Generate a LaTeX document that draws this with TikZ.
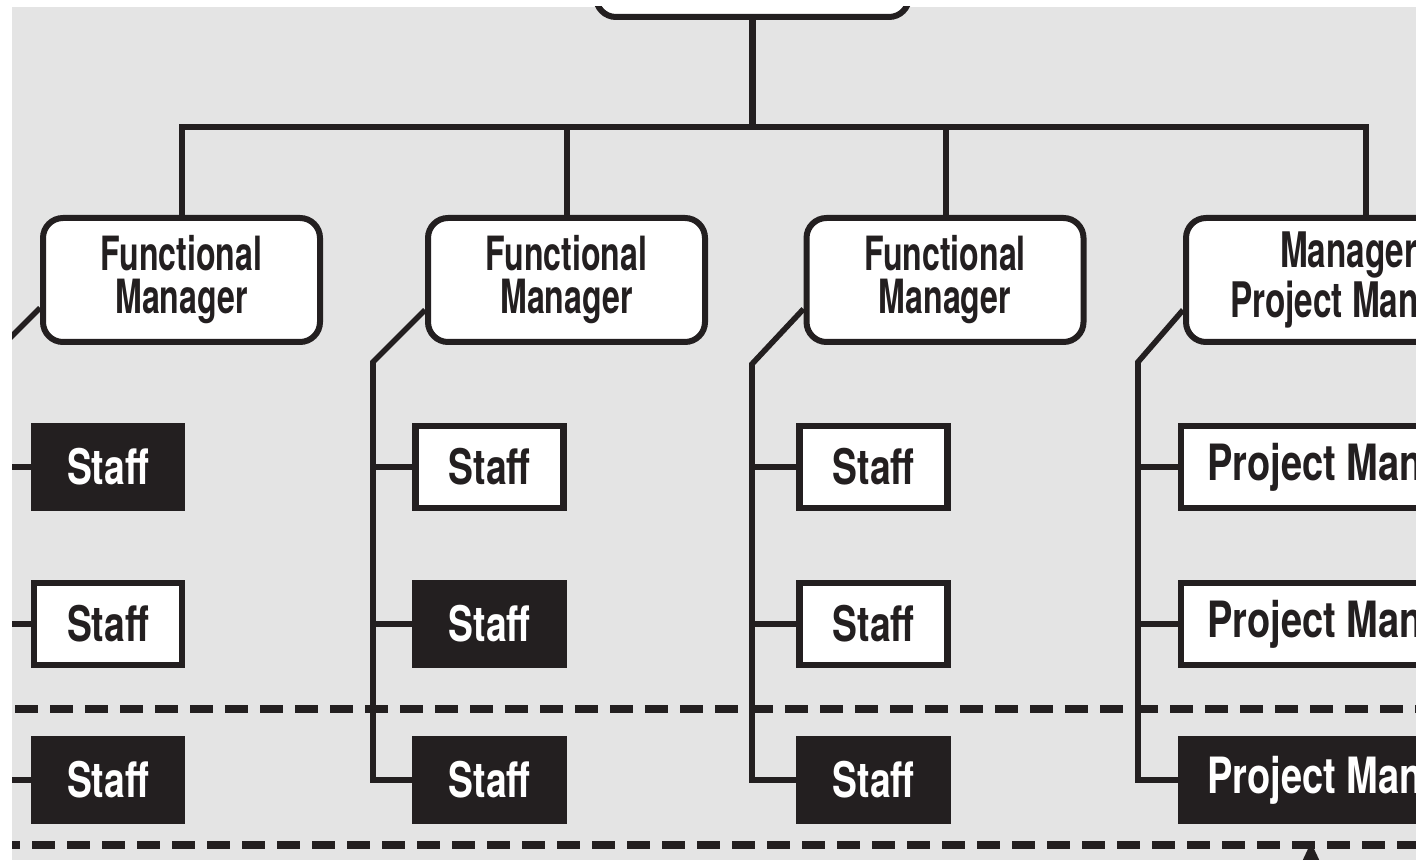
\documentclass[tikz,border=0pt]{standalone}
\usepackage{fontspec}
\usetikzlibrary{arrows.meta,calc}
% condensed grotesque faces for the box labels
\newfontfamily\fmfnt{TeX Gyre Heros}[FakeStretch=0.68]
\newfontfamily\stfnt{TeX Gyre Heros}[FakeStretch=0.76]
\definecolor{ink}{HTML}{231F20}
\definecolor{paper}{HTML}{E4E4E4}
\begin{document}
\begin{tikzpicture}[x=0.5pt,y=-0.5pt,
  fmbox/.style={draw=ink, line width=3pt, fill=white, text=ink,
    rounded corners=10pt, minimum width=138.5pt, minimum height=62pt,
    inner sep=0pt, align=center,
    font=\fmfnt\bfseries\fontsize{23.6}{21.5}\selectfont},
  staffw/.style={draw=ink, line width=3.2pt, fill=white, text=ink,
    minimum width=74pt, minimum height=41pt, inner sep=0pt,
    font=\stfnt\bfseries\fontsize{24.5}{24.5}\selectfont},
  staffb/.style={staffw, fill=ink, text=white},
  pmw/.style={staffw, anchor=west, inner xsep=13pt,
    font=\stfnt\bfseries\fontsize{25}{25}\selectfont},
  pmb/.style={pmw, fill=ink, text=white},
  link/.style={draw=ink, line width=2.8pt},
  bus/.style={draw=ink, line width=3.3pt},
  sep/.style={draw=ink, line width=3.8pt, dash pattern=on 11.5pt off 6pt}
]
% page with grey panel
\useasboundingbox (0,0) rectangle (1416,860);
\fill[white] (0,0) rectangle (1416,860);
\fill[paper] (12,7) rectangle (1416,860);
\clip (12,7) rectangle (1416,860);

% level separators
\coordinate (s1a) at (15,709);   \coordinate (s1b) at (1430,709);
\coordinate (s2a) at (-3,845);   \coordinate (s2b) at (1430,845);
\draw[sep] (s1a) -- (s1b);
\draw[sep] (s2a) -- (s2b);

% top executive box
\node[fmbox, minimum width=156.5pt] (top) at (752.5,-45) {};

% managers
\node[fmbox] (fm1) at (181.5,280) {Functional\\Manager};
\node[fmbox] (fm2) at (566.5,280) {Functional\\Manager};
\node[fmbox] (fm3) at (945,280) {Functional\\Manager};
\node[fmbox, anchor=west, minimum width=0pt, inner xsep=22pt,
  font=\fmfnt\bfseries\fontsize{24.5}{21.5}\selectfont] (fm4) at (1183,280) {Manager of\\Project Managers};

% bus from the top box
\coordinate (busL) at (182,127);
\coordinate (j2) at (567,127);
\coordinate (j3) at (946,127);
\coordinate (j4) at (1366,127);
\draw[bus] (top.south) -- (top.south |- busL);
\draw[bus] (fm1.north -| busL) -- (busL) -- (j4) -- (j4 |- fm4.north);
\draw[bus] (j2) -- (j2 |- fm2.north);
\draw[bus] (j3) -- (j3 |- fm3.north);

% staff, column 1
\node[staffb] (s11) at (108,467) {Staff};
\node[staffw] (s12) at (108,624) {Staff};
\node[staffb] (s13) at (108,780) {Staff};
% staff, column 2
\node[staffw] (s21) at (489.5,467) {Staff};
\node[staffb] (s22) at (489.5,624) {Staff};
\node[staffb] (s23) at (489.5,780) {Staff};
% staff, column 3
\node[staffw] (s31) at (873.5,467) {Staff};
\node[staffw] (s32) at (873.5,624) {Staff};
\node[staffb] (s33) at (873.5,780) {Staff};
% project managers, column 4
\node[pmw] (s41) at (1178,467) {Project Manager};
\node[pmw] (s42) at (1178,624) {Project Manager};
\node[pmb] (s43) at (1178,780) {Project Manager};

% reporting trunks
\coordinate (t1) at (-14,362);
\coordinate (t2) at (373,362);
\coordinate (t3) at (752,364);
\coordinate (t4) at (1138,362);
\draw[link] ($(fm1.west)+(0,28)$) -- (t1) -- (t1 |- s13.west) -- (s13.west);
\draw[link] ($(fm2.west)+(0,30)$) -- (t2) -- (t2 |- s23.west) -- (s23.west);
\draw[link] ($(fm3.west)+(0,29)$) -- (t3) -- (t3 |- s33.west) -- (s33.west);
\draw[link] ($(fm4.west)+(0,30)$) -- (t4) -- (t4 |- s43.west) -- (s43.west);
\foreach \c in {1,2,3,4}{
  \draw[link] (t\c |- s\c1.west) -- (s\c1.west);
  \draw[link] (t\c |- s\c2.west) -- (s\c2.west);
}

% arrow rising from below
\coordinate (aTail) at (1311,900);
\coordinate (aHead) at (1311,842);
\draw[link, -{Triangle[length=15pt,width=13pt]}] (aTail) -- (aHead);
\end{tikzpicture}
\end{document}
